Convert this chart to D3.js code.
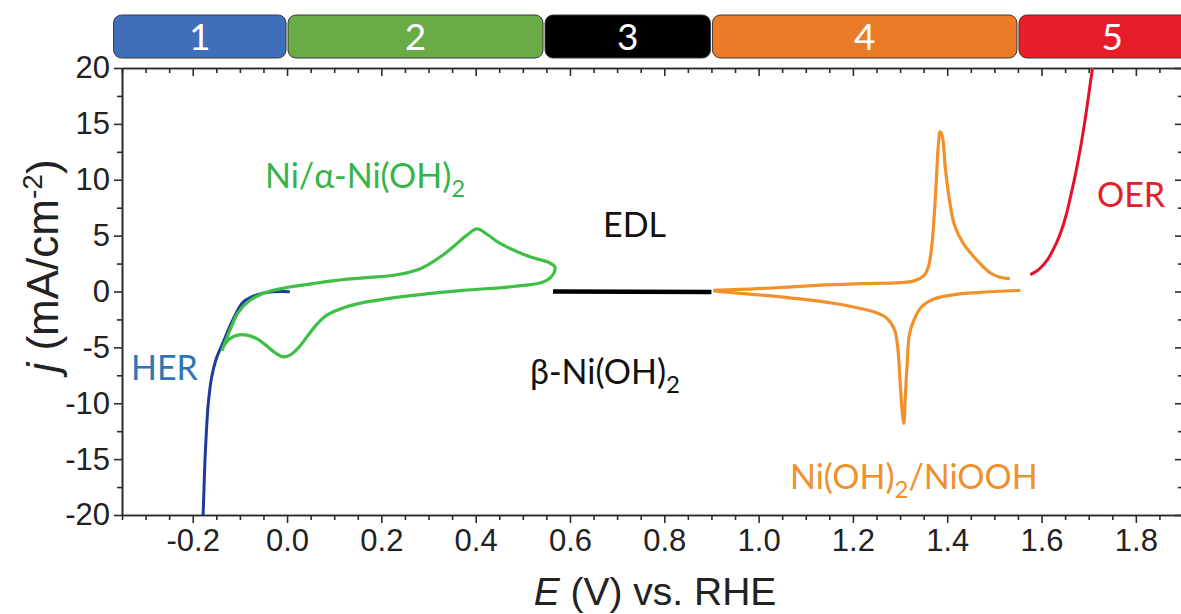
<!DOCTYPE html>
<html>
<head>
<meta charset="utf-8">
<script src="https://cdn.jsdelivr.net/npm/d3@7"></script>
<style>
  body { margin: 0; background: #fff; }
  svg { display: block; }
  .tick text { font-family: "Liberation Sans", Arial, sans-serif; }
</style>
</head>
<body>
<div class="chart"></div>
<script>
const width = 1181;
const height = 614;

// regions shown in the coloured strip on top (E boundaries, V)
const regionNames = ['1', '2', '3', '4', '5'];
const regionEdges = [-0.37, 0.0, 0.545, 0.9, 1.55, 1.95];
const regionColors = ['#3f6fb9', '#69ab46', '#000000', '#eb7b27', '#e91d2a'];

const xTicks = [-0.2, 0.0, 0.2, 0.4, 0.6, 0.8, 1.0, 1.2, 1.4, 1.6, 1.8];
const yTicks = [-20, -15, -10, -5, 0, 5, 10, 15, 20];

// [E (V), j (mA/cm2)]
const herCurve = [
  [-0.178, -20], [-0.176, -17.5], [-0.174, -15], [-0.171, -12.5], [-0.167, -10],
  [-0.160, -7.7], [-0.150, -6.0], [-0.136, -4.6], [-0.115, -2.55], [-0.093, -0.95],
  [-0.064, -0.3], [-0.036, -0.05], [0.006, -0.02]
];

const nickelCV = [
  [-0.138, -5.3], [-0.130, -4.4], [-0.121, -3.45], [-0.104, -1.9], [-0.078, -0.76],
  [-0.042, -0.05], [0.006, 0.4], [0.064, 0.76], [0.127, 1.1], [0.233, 1.5],
  [0.280, 2.0], [0.303, 2.5], [0.335, 3.4], [0.355, 4.1], [0.380, 5.0],
  [0.403, 5.6], [0.425, 5.1], [0.452, 4.3], [0.515, 3.1], [0.555, 2.6],
  [0.568, 2.2], [0.562, 1.4], [0.543, 0.85], [0.480, 0.45], [0.373, 0.1],
  [0.267, -0.35], [0.161, -1.0], [0.120, -1.45], [0.085, -2.1], [0.064, -2.9],
  [0.045, -3.9], [0.025, -5.0], [0.006, -5.7], [-0.008, -5.85], [-0.025, -5.5],
  [-0.045, -4.8], [-0.065, -4.2], [-0.085, -3.9], [-0.105, -3.9], [-0.120, -4.2],
  [-0.132, -4.7], [-0.138, -5.3]
];

const edlLine = [[0.564, 0.0], [0.900, -0.05]];

const oxAnodic = [
  [0.904, 0.1], [1.000, 0.25], [1.124, 0.55], [1.220, 0.7], [1.300, 0.8],
  [1.330, 0.95], [1.350, 1.4], [1.360, 2.2], [1.367, 4.0], [1.372, 6.5],
  [1.377, 10.0], [1.381, 13.0], [1.385, 14.3], [1.390, 13.8], [1.395, 11.5],
  [1.400, 9.6], [1.407, 7.6], [1.415, 6.0], [1.434, 4.3], [1.463, 2.8],
  [1.490, 1.7], [1.510, 1.3], [1.533, 1.15]
];

const oxCathodic = [
  [1.555, 0.1], [1.500, 0.0], [1.463, -0.1], [1.420, -0.25], [1.385, -0.5],
  [1.360, -0.9], [1.343, -1.5], [1.330, -2.5], [1.320, -3.8], [1.315, -6.5],
  [1.311, -9.5], [1.308, -11.8], [1.304, -10.5], [1.300, -8.0], [1.295, -5.0],
  [1.288, -3.4], [1.272, -2.4], [1.250, -1.9], [1.230, -1.65], [1.158, -1.05],
  [1.052, -0.5], [0.946, -0.1], [0.904, 0.05]
];

const oerCurve = [
  [1.576, 1.5], [1.595, 2.0], [1.612, 2.8], [1.630, 4.2], [1.640, 5.2],
  [1.652, 6.8], [1.660, 8.2], [1.672, 10.5], [1.682, 12.7], [1.691, 15.0],
  [1.699, 17.3], [1.708, 20]
];

const svg = d3.select('.chart')
  .append('svg')
  .attr('width', width)
  .attr('height', height);

const x = d3.scaleLinear().domain([-0.35, 1.9]).range([122, 1183]);
const y = d3.scaleLinear().domain([-20, 20]).range([515, 68]);

// coloured strip
const strip = svg.append('g');
regionNames.forEach((name, i) => {
  const x0 = x(regionEdges[i]) + 1;
  const x1 = x(regionEdges[i + 1]) - 1;
  strip.append('rect')
    .attr('x', x0).attr('y', 15)
    .attr('width', x1 - x0).attr('height', 43)
    .attr('rx', 8)
    .attr('fill', regionColors[i])
    .attr('stroke', '#3a3a3a')
    .attr('stroke-width', 1);
  strip.append('text')
    .attr('x', (x0 + x1) / 2).attr('y', 50)
    .attr('text-anchor', 'middle')
    .attr('fill', '#fff')
    .style('font-family', 'Lato, sans-serif')
    .style('font-size', '37px')
    .text(name);
});

// axes
const hyphen = f => d => f(d).replace('\u2212', '-');
const minorX = d3.range(-35, 191, 5).map(d => d / 100).filter(d => Math.abs(d * 5 - Math.round(d * 5)) > 1e-6);
const minorY = d3.range(-17.5, 20, 5);

function styleAxis(g) {
  g.selectAll('path.domain').attr('stroke', '#2b2b2b').attr('stroke-width', 1.6);
  g.selectAll('.tick line').attr('stroke', '#2b2b2b').attr('stroke-width', 1.6);
  g.selectAll('.tick text').attr('fill', '#222').style('font-size', '31px');
}

svg.append('g').attr('transform', 'translate(0,515)')
  .call(d3.axisBottom(x).tickValues(xTicks).tickFormat(hyphen(d3.format('.1f'))).tickSize(8).tickPadding(6).tickSizeOuter(0))
  .call(styleAxis);
svg.append('g').attr('transform', 'translate(0,515)')
  .call(d3.axisBottom(x).tickValues(minorX).tickFormat('').tickSize(5).tickSizeOuter(0))
  .call(styleAxis);
svg.append('g').attr('transform', 'translate(0,68)')
  .call(d3.axisTop(x).tickValues(xTicks).tickFormat('').tickSize(-8).tickSizeOuter(0))
  .call(styleAxis);
svg.append('g').attr('transform', 'translate(0,68)')
  .call(d3.axisTop(x).tickValues(minorX).tickFormat('').tickSize(-5).tickSizeOuter(0))
  .call(styleAxis);

svg.append('g').attr('transform', 'translate(122,0)')
  .call(d3.axisLeft(y).tickValues(yTicks).tickFormat(hyphen(d3.format('d'))).tickSize(8).tickPadding(4).tickSizeOuter(0))
  .call(styleAxis);
svg.append('g').attr('transform', 'translate(122,0)')
  .call(d3.axisLeft(y).tickValues(minorY).tickFormat('').tickSize(5).tickSizeOuter(0))
  .call(styleAxis);
svg.append('g').attr('transform', 'translate(1183,0)')
  .call(d3.axisRight(y).tickValues(yTicks).tickFormat('').tickSize(-8).tickSizeOuter(0))
  .call(styleAxis);
svg.append('g').attr('transform', 'translate(1183,0)')
  .call(d3.axisRight(y).tickValues(minorY).tickFormat('').tickSize(-5).tickSizeOuter(0))
  .call(styleAxis);

// axis titles
const xTitle = svg.append('text')
  .attr('x', 655).attr('y', 605)
  .attr('text-anchor', 'middle')
  .attr('fill', '#222')
  .style('font-family', '"Liberation Sans", Arial, sans-serif')
  .style('font-size', '39px');
xTitle.append('tspan').style('font-style', 'italic').text('E');
xTitle.append('tspan').text(' (V) vs. RHE');

const yTitle = svg.append('text')
  .attr('transform', 'translate(58,266) rotate(-90)')
  .attr('text-anchor', 'middle')
  .attr('fill', '#222')
  .style('font-family', '"Liberation Sans", Arial, sans-serif')
  .style('font-size', '44px');
yTitle.append('tspan').style('font-style', 'italic').text('j');
yTitle.append('tspan').text(' (mA/cm');
yTitle.append('tspan').attr('dy', -16).style('font-size', '28px').text('-2');
yTitle.append('tspan').attr('dy', 16).text(')');

// curves
svg.append('clipPath').attr('id', 'plot-clip')
  .append('rect').attr('x', 122).attr('y', 68).attr('width', 1061).attr('height', 447);

const line = d3.line()
  .x(d => x(d[0]))
  .y(d => y(d[1]))
  .curve(d3.curveCatmullRom.alpha(0.5));

const curves = svg.append('g').attr('clip-path', 'url(#plot-clip)');
const series = [
  { data: herCurve, color: '#1d3b9e', w: 3 },
  { data: nickelCV, color: '#3fbf45', w: 3.2 },
  { data: edlLine, color: '#000000', w: 4.5 },
  { data: oxAnodic, color: '#f2902a', w: 3.2 },
  { data: oxCathodic, color: '#f2902a', w: 3.2 },
  { data: oerCurve, color: '#e5112a', w: 3 }
];
series.forEach(s => {
  curves.append('path')
    .attr('d', line(s.data))
    .attr('fill', 'none')
    .attr('stroke', s.color)
    .attr('stroke-width', s.w)
    .attr('stroke-linejoin', 'round');
});

// annotations: plain strings, or [text] for a subscript
function label(parts, px, py, color) {
  const t = svg.append('text')
    .attr('x', px).attr('y', py)
    .attr('fill', color)
    .style('font-family', 'Lato, sans-serif')
    .style('font-size', '34px');
  let shifted = false;
  parts.forEach(p => {
    if (Array.isArray(p)) {
      t.append('tspan').attr('dy', 9).style('font-size', '24px').text(p[0]);
      shifted = true;
    } else {
      t.append('tspan').attr('dy', shifted ? -9 : 0).text(p);
      shifted = false;
    }
  });
}
label(['HER'], 131, 380, '#2e75b6');
label(['Ni/α-Ni(OH)', ['2']], 265, 188, '#35b44a');
label(['EDL'], 603, 237, '#111');
label(['β-Ni(OH)', ['2']], 530, 384, '#111');
label(['Ni(OH)', ['2'], '/NiOOH'], 790, 489, '#f0902c');
label(['OER'], 1097, 207, '#e3202c');
</script>
</body>
</html>
